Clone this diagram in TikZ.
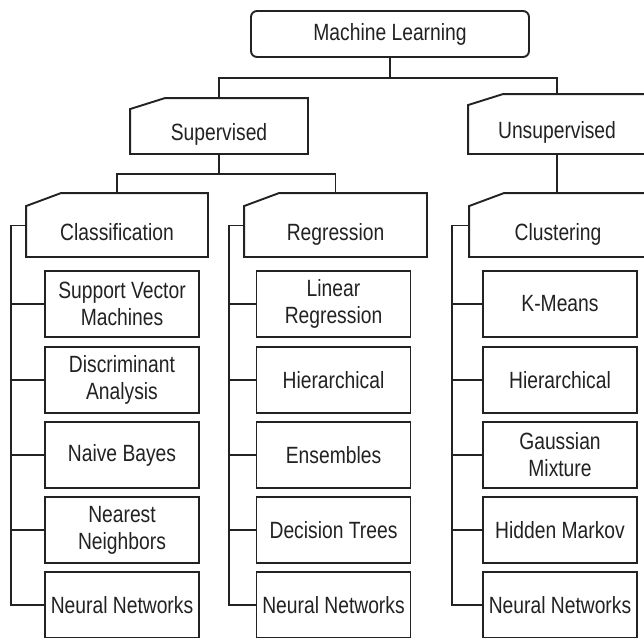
\documentclass[tikz,border=0pt]{standalone}
\usepackage{fontspec}
\setmainfont{Liberation Sans}[FakeStretch=0.82]
\usetikzlibrary{calc}
\definecolor{ink}{HTML}{222222}
\newcommand\mytabframe[2]{%
  \draw[tabline] (#1.south west) -- (#1.north west) -- ([shift={(35pt,#2)}]#1.north west) -- ([yshift=#2]#1.north east) -- (#1.south east) -- cycle;}
\begin{document}
\begin{tikzpicture}[x=1pt,y=-1pt,line width=1.9pt,
  base/.style={inner sep=0pt,text=ink,align=center,font=\fontsize{23.5pt}{27pt}\selectfont},
  rbox/.style={base,draw=ink,rounded corners=6pt,minimum width=278pt,minimum height=46pt},
  tabnode/.style={base,text depth=0pt},
  item/.style={base,draw=ink,minimum width=154pt,minimum height=66pt},
  tabline/.style={draw=ink,line join=miter},
  link/.style={draw=ink}]
\fill[white] (0,0) rectangle (644,637);
\useasboundingbox (0,0) rectangle (644,637);

% top level
\node[rbox] (ml) at (390,34) {Machine Learning};
\node[tabnode,minimum width=176pt,minimum height=43pt] (sup) at (219,131.5) {Supervised};
\node[tabnode,minimum width=176pt,minimum height=47pt] (uns) at (557,129.5) {Unsupervised};
\mytabframe{sup}{11pt}
\mytabframe{uns}{11pt}

% second level
\node[tabnode,minimum width=180pt,minimum height=49pt] (cls) at (117,231.5) {Classification};
\node[tabnode,minimum width=181pt,minimum height=49pt] (reg) at (335.5,231.5) {Regression};
\node[tabnode,minimum width=176pt,minimum height=49pt] (clu) at (558,231.5) {Clustering};
\mytabframe{cls}{13pt}
\mytabframe{reg}{13pt}
\mytabframe{clu}{13pt}

% classification items
\node[item] (c1) at (122,304) {Support Vector\\Machines};
\node[item] (c2) at (122,380) {Discriminant\\Analysis};
\node[item] (c3) at (122,455) {Naive Bayes};
\node[item] (c4) at (122,530) {Nearest\\Neighbors};
\node[item] (c5) at (122,605) {Neural Networks};

% regression items
\node[item] (r1) at (333.5,304) {Linear\\Regression};
\node[item] (r2) at (333.5,380) {Hierarchical};
\node[item] (r3) at (333.5,455) {Ensembles};
\node[item] (r4) at (333.5,530) {Decision Trees};
\node[item] (r5) at (333.5,605) {Neural Networks};

% clustering items
\node[item] (k1) at (560,304) {K-Means};
\node[item] (k2) at (560,380) {Hierarchical};
\node[item] (k3) at (560,455) {Gaussian\\Mixture};
\node[item] (k4) at (560,530) {Hidden Markov};
\node[item] (k5) at (560,605) {Neural Networks};

% tree connectors
\coordinate (mlbar) at ($(ml.south)+(0,20)$);
\coordinate (suptop) at ([yshift=11pt]sup.north);
\coordinate (unstop) at ([yshift=11pt]uns.north);
\draw[link] (ml.south) -- (mlbar);
\draw[link] (suptop) |- (mlbar) -| (unstop);

\coordinate (supbar) at ($(sup.south)+(0,20)$);
\coordinate (clstop) at ([yshift=13pt]cls.north);
\coordinate (regtop) at ([yshift=13pt]reg.north);
\coordinate (clutop) at ([yshift=13pt]clu.north);
\draw[link] (sup.south) -- (supbar);
\draw[link] (clstop) |- (supbar) -| (regtop);
\draw[link] (uns.south) -- (uns.south |- clutop);

% side bars
\coordinate (clsw) at ([yshift=6pt]cls.west);
\coordinate (cb) at ($(clsw)+(-15,0)$);
\draw[link] (clsw) -- (cb) |- (c5.west);
\foreach \i in {1,...,4} \draw[link] (c\i.west) -- (c\i.west -| cb);

\coordinate (regw) at ([yshift=6pt]reg.west);
\coordinate (rb) at ($(regw)+(-15,0)$);
\draw[link] (regw) -- (rb) |- (r5.west);
\foreach \i in {1,...,4} \draw[link] (r\i.west) -- (r\i.west -| rb);

\coordinate (cluw) at ([yshift=6pt]clu.west);
\coordinate (kb) at ($(cluw)+(-17,0)$);
\draw[link] (cluw) -- (kb) |- (k5.west);
\foreach \i in {1,...,4} \draw[link] (k\i.west) -- (k\i.west -| kb);
\end{tikzpicture}
\end{document}
